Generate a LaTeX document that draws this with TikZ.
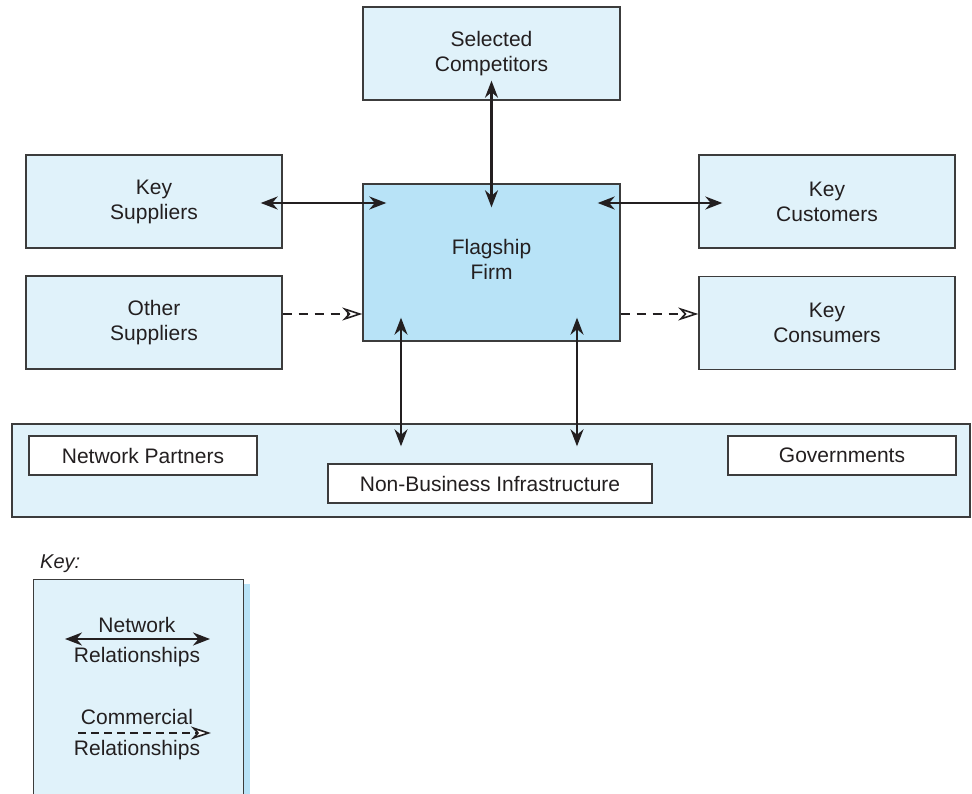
\documentclass[tikz,border=0pt]{standalone}
\usepackage{fontspec}
\setmainfont{Liberation Sans}
\usetikzlibrary{arrows.meta,calc}
\definecolor{lightbox}{HTML}{E0F2FA}
\definecolor{flagblue}{HTML}{B8E3F7}
\definecolor{edge}{HTML}{3C3C3C}
\definecolor{ink}{HTML}{231F20}
\begin{document}
\begin{tikzpicture}[x=1pt,y=-1pt,
  box/.style={draw=edge, line width=1.4pt, fill=lightbox, align=center, inner sep=0pt,
    font=\fontsize{21}{25}\selectfont, text=ink},
  bigbox/.style={box, minimum width=256pt, minimum height=93pt},
  flagbox/.style={box, fill=flagblue, minimum width=257pt, minimum height=157pt},
  wbox/.style={box, fill=white, minimum height=39pt},
  txt/.style={inner sep=0pt, font=\fontsize{21}{25}\selectfont, text=ink},
  net/.style={draw=ink, line width=2.2pt,
    {Stealth[length=17pt,width=13pt,inset=5.5pt]}-{Stealth[length=17pt,width=13pt,inset=5.5pt]}},
  com/.style={draw=ink, line width=1.8pt, dash pattern=on 9pt off 7pt,
    -{Stealth[length=20pt,width=13pt,inset=6pt,fill=white,line width=1.6pt]}}
]
\useasboundingbox (0,0) rectangle (972,794);
\clip (0,0) rectangle (972,794);

% bottom band
\node[box, minimum width=958pt, minimum height=93pt] (band) at (491,470.5) {};
\node[wbox, minimum width=228pt] (np) at (143,455.5) {Network Partners};
\node[wbox, minimum width=324pt] (nbi) at (490,483.5) {Non-Business Infrastructure};
\node[wbox, minimum width=228pt] (gov) at (842,455.5) {Governments};

% main boxes
\node[bigbox, minimum width=257pt] (comp) at (491.5,53.5) {Selected\\Competitors};
\node[flagbox] (flag) at (491.5,262.5) {\raisebox{4pt}{\begin{tabular}{@{}c@{}}Flagship\\Firm\end{tabular}}};
\node[bigbox] (ksup) at (154,201.5) {Key\\Suppliers};
\node[bigbox] (osup) at (154,322.5) {Other\\Suppliers};
\node[bigbox] (kcus) at (827,201.5) {Key\\Customers};
\node[bigbox] (kcon) at (827,323) {Key\\Consumers};

% network relationships
\draw[net] ([xshift=-22pt,yshift=-1.5pt]ksup.east) -- ([yshift=-1.5pt]ksup.east -| flag.west) -- ++(24,0);
\draw[net] ([xshift=-23pt,yshift=-1.5pt]flag.east |- kcus.west) -- ([xshift=24pt,yshift=-1.5pt]kcus.west);
\draw[net] ([yshift=20pt]comp.south) -- ([yshift=-24pt]flag.north);
\draw[net] ([xshift=-90.5pt,yshift=24pt]flag.south) -- ([xshift=-90.5pt,yshift=-23pt]flag.south |- band.north);
\draw[net] ([xshift=85.5pt,yshift=24pt]flag.south) -- ([xshift=85.5pt,yshift=-23pt]flag.south |- band.north);

% commercial relationships
\draw[com] ([yshift=8.5pt]osup.east) -- ([yshift=8.5pt]osup.east -| flag.west);
\draw[com] ([yshift=9pt]flag.east |- kcon.west) -- ([yshift=9pt]kcon.west);

% key
\node[txt, font=\fontsize{20}{24}\selectfont\itshape, anchor=west] (keylabel) at (40,564) {Key:};
\fill[flagblue] (40,584) rectangle (250,800);
\node[box, anchor=north west, minimum width=210pt, minimum height=230pt] (keybox) at (33,579) {};
\node[txt] (knet) at (137,625) {Network};
\node[txt] (krel1) at (137,657) {Relationships};
\coordinate (na) at (65,639);
\coordinate (nb) at (210,639);
\draw[net] (na) -- (nb);
\node[txt] (kcom) at (137,717) {Commercial};
\node[txt] (krel2) at (137,750) {Relationships};
\coordinate (ca) at (78,733);
\coordinate (cb) at (211,733);
\draw[com, dash pattern=on 8pt off 5pt] (ca) -- (cb);
\end{tikzpicture}
\end{document}
